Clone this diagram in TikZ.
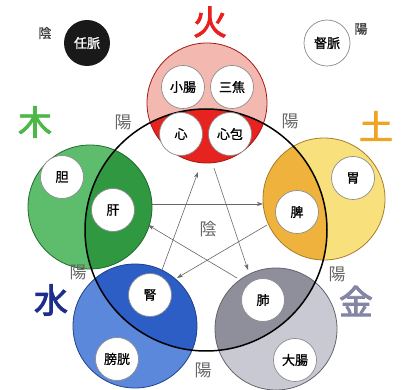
\documentclass[tikz,border=0pt]{standalone}
\usepackage{fontspec}
\setmainfont{Noto Sans CJK JP}
\newfontfamily\heavyfont{Noto Sans CJK JP}[FakeBold=2.5]
\newfontfamily\semifont{Noto Sans CJK JP}[FakeBold=1]
\usetikzlibrary{arrows.meta}
\definecolor{firehi}{HTML}{F3B9B0}
\definecolor{firein}{HTML}{E7231F}
\definecolor{woodhi}{HTML}{5DBD6C}
\definecolor{woodin}{HTML}{2F9840}
\definecolor{earthhi}{HTML}{F8E07C}
\definecolor{earthin}{HTML}{EFB23C}
\definecolor{waterhi}{HTML}{5B88DA}
\definecolor{waterin}{HTML}{2C5EC6}
\definecolor{metalhi}{HTML}{C9C9D3}
\definecolor{metalin}{HTML}{8F8F9B}
\definecolor{firetxt}{HTML}{E8201E}
\definecolor{earthtxt}{HTML}{F0A424}
\definecolor{metaltxt}{HTML}{8484A6}
\definecolor{watertxt}{HTML}{1E2C8C}
\definecolor{woodtxt}{HTML}{4DB848}
\tikzset{
  organ/.style={circle, draw=black!45, line width=0.7pt, fill=white, minimum size=43pt, inner sep=0pt, font=\fontsize{13}{13}\selectfont\semifont},
  elem/.style={font=\fontsize{34}{34}\selectfont\heavyfont},
  yang/.style={text=black!60, font=\fontsize{17}{17}\selectfont},
  smallyy/.style={text=black!75, font=\fontsize{13}{13}\selectfont\semifont},
  cyc/.style={draw=black!60, line width=0.6pt, -{Stealth[length=6pt,width=4pt]}},
  bigring/.style={draw=black, line width=1.5pt},
  ering/.style={line width=0.8pt}
}
\begin{document}
\begin{tikzpicture}[x=1pt,y=-1pt]
\useasboundingbox (0,0) rectangle (405,390);
\fill[white] (0,0) rectangle (405,390);
% big ring centre
\coordinate (ringc) at (206,230);
% element circles
\foreach \cx/\cy/\r/\hi/\in in {207/103/60/firehi/firein, 90/207/62/woodhi/woodin, 324/199/61/earthhi/earthin, 135/326/62/waterhi/waterin, 276/329/61/metalhi/metalin}{
  \fill[\hi] (\cx,\cy) circle (\r pt);
  \begin{scope}
    \clip (\cx,\cy) circle (\r pt);
    \fill[\in] (ringc) circle (121pt);
  \end{scope}
  \draw[ering, draw=\in!70!black] (\cx,\cy) circle (\r pt);
}
\draw[bigring] (ringc) circle (121pt);
% arrow end points (controlling cycle)
\coordinate (woodE) at (152,204);
\coordinate (earthW) at (263,204);
\coordinate (earthSW) at (267,225);
\coordinate (waterNE) at (177,278);
\coordinate (waterN) at (162,270);
\coordinate (fireS1) at (198,172);
\coordinate (fireS2) at (214,168);
\coordinate (metalN) at (248,270);
\coordinate (metalNW) at (237,278);
\coordinate (woodSE) at (148,225);
\draw[cyc] (woodE) -- (earthW);
\draw[cyc] (earthSW) -- (waterNE);
\draw[cyc] (waterN) -- (fireS1);
\draw[cyc] (fireS2) -- (metalN);
\draw[cyc] (metalNW) -- (woodSE);
% organs
\node[organ] (xiaochang) at (183,87) {小腸};
\node[organ] (sanjiao) at (232,87) {三焦};
\node[organ] (xin) at (181,134) {心};
\node[organ] (xinbao) at (230,134) {心包};
\node[organ] (dan) at (62,177) {胆};
\node[organ] (gan) at (113,210) {肝};
\node[organ] (pi) at (297,212) {脾};
\node[organ] (wei) at (353,178) {胃};
\node[organ] (shen) at (150,295) {腎};
\node[organ] (pangguang) at (117,359) {膀胱};
\node[organ] (fei) at (263,300) {肺};
\node[organ] (dachang) at (295,360) {大腸};
% element labels
\node[elem, text=firetxt] (huo) at (210,22) {火};
\node[elem, text=earthtxt] (tu) at (376,126) {土};
\node[elem, text=woodtxt] (mu) at (35,122) {木};
\node[elem, text=watertxt] (shui) at (51,300) {水};
\node[elem, text=metaltxt] (jin) at (356,301) {金};
% yin/yang labels
\node[yang] (y1) at (123,122) {陽};
\node[yang] (y2) at (290,121) {陽};
\node[yang] (y3) at (337,274) {陽};
\node[yang] (y4) at (78,272) {陽};
\node[yang] (y5) at (203,370) {陽};
\node[yang] (yin) at (208,229) {陰};
% ren / du meridians
\node[circle, fill=black!90, minimum size=46pt, inner sep=0pt, text=white, font=\fontsize{13}{13}\selectfont\semifont] (ren) at (87,43) {任脈};
\node[smallyy] (yinr) at (45,33) {陰};
\node[circle, draw=black!45, line width=0.7pt, fill=white, minimum size=46pt, inner sep=0pt, font=\fontsize{13}{13}\selectfont\semifont] (du) at (327,43) {督脈};
\node[smallyy] (yangd) at (361,29) {陽};
\end{tikzpicture}
\end{document}
